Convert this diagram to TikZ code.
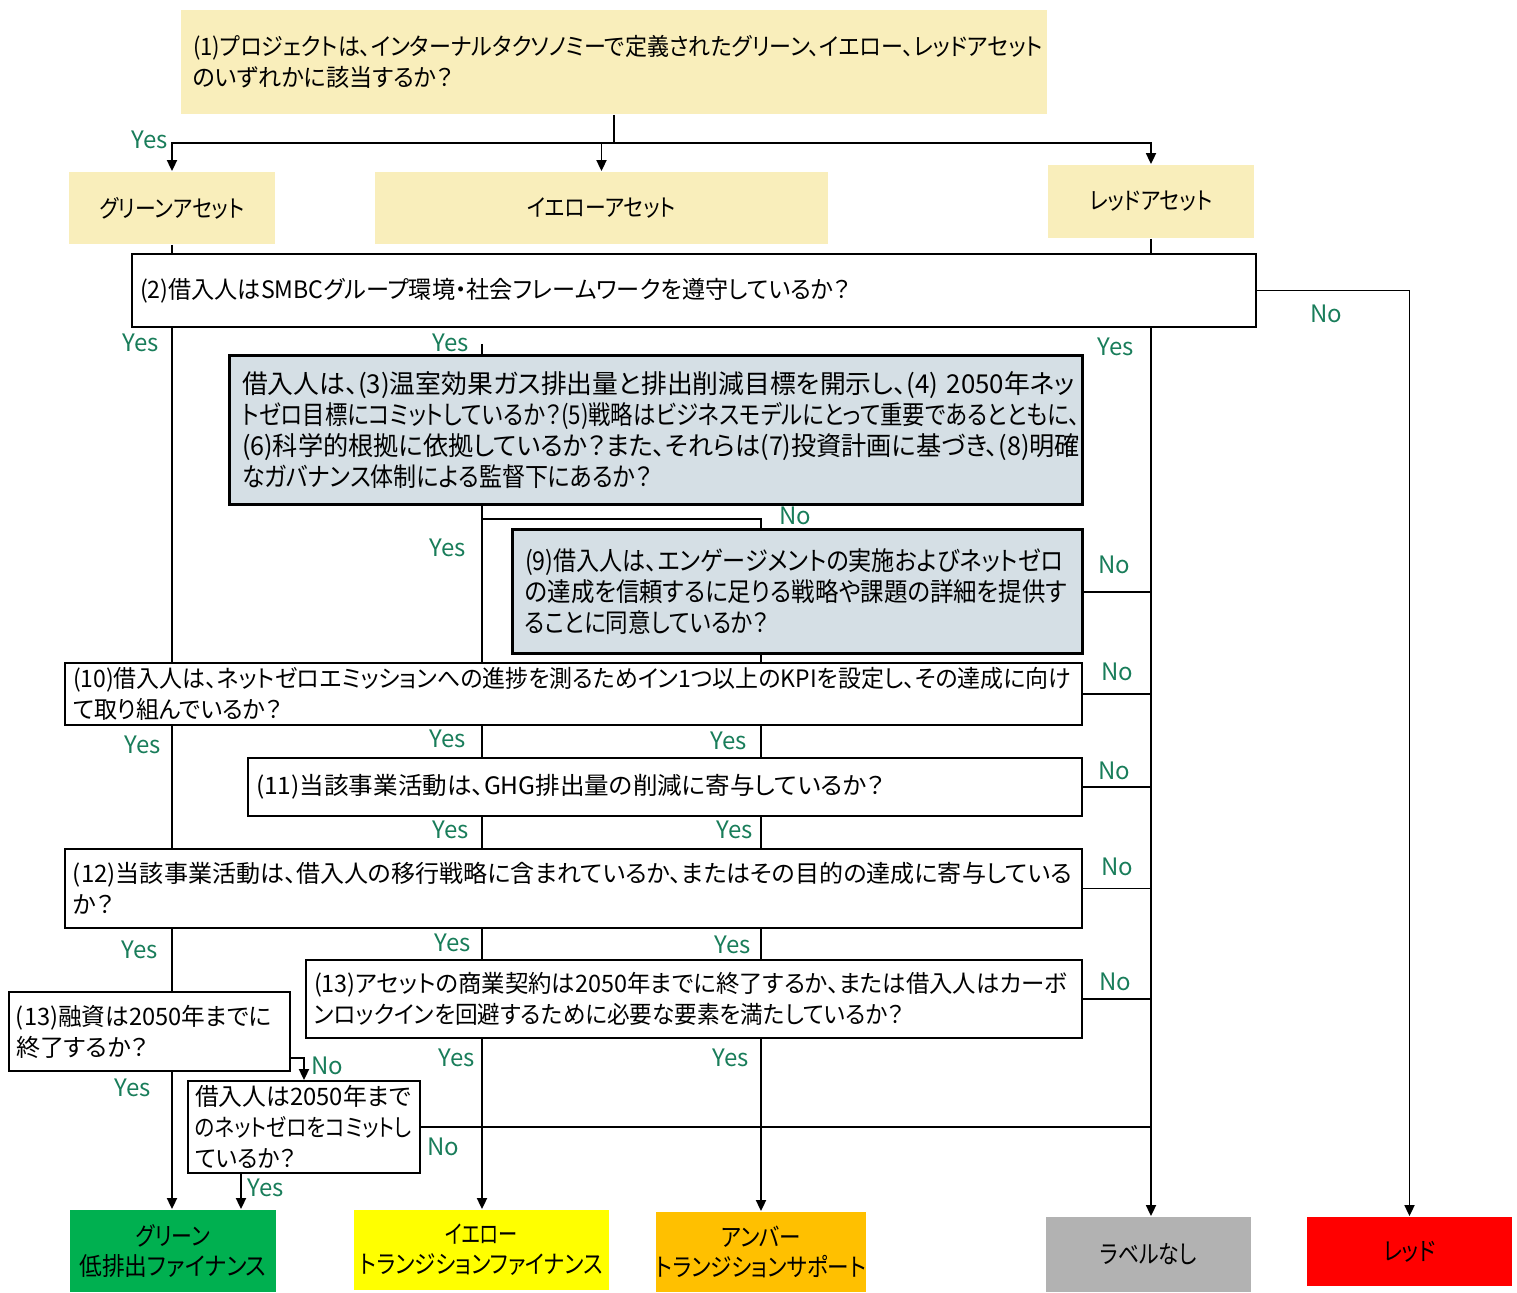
\documentclass[tikz,border=0pt]{standalone}
\usepackage{fontspec}
\usepackage{graphicx}
\setmainfont{Noto Sans CJK JP}[RawFeature=+palt]
\usetikzlibrary{arrows.meta}
\definecolor{assetc}{HTML}{F9EEBB}
\definecolor{qblue}{HTML}{D5DFE5}
\definecolor{lbl}{RGB}{25,125,90}
\definecolor{rgreen}{HTML}{00B050}
\definecolor{ryellow}{HTML}{FFFF00}
\definecolor{ramber}{HTML}{FFC000}
\definecolor{rgrey}{HTML}{B2B2B2}
\definecolor{rred}{HTML}{FF0000}
\newsavebox\fitbox
\newcommand\fitw[2]{\sbox\fitbox{#2}\pgfmathsetmacro\fitfac{#1/\the\wd\fitbox}\scalebox{\fitfac}[1]{\usebox\fitbox}}
\begin{document}
\begin{tikzpicture}[x=0.5pt,y=-0.5pt,
 line width=0.9pt,
 arr/.style={-{Triangle[length=5.5pt,width=5pt]}},
 asset/.style={fill=assetc, inner sep=0pt, font=\fontsize{12}{14}\selectfont},
 qbox/.style={draw, fill=white, align=left, inner ysep=0pt, inner xsep=4pt, font=\fontsize{12}{15.5}\selectfont},
 qthick/.style={draw, fill=qblue, line width=1.5pt, align=left, inner ysep=0pt, inner xsep=6.5pt, font=\fontsize{13}{15.5}\selectfont},
 result/.style={inner sep=0pt, align=center, font=\fontsize{12.5}{15}\selectfont},
 yn/.style={text=lbl, inner sep=0pt, font=\fontsize{12}{14}\selectfont},
]
\useasboundingbox (0,0) rectangle (1517,1293);

% question / asset nodes
\node[asset, align=left, inner xsep=6pt, minimum width=433pt, text width=421pt, minimum height=52pt, font=\fontsize{12}{15.5}\selectfont] (q1) at (614,62)
 {\fitw{425pt}{(1)プロジェクトは、インターナルタクソノミーで定義されたグリーン、イエロー、レッドアセット}\\\fitw{130pt}{のいずれかに該当するか？}};
\node[asset, minimum width=103pt, minimum height=36pt] (ga) at (172,208) {\fitw{72.5pt}{グリーンアセット}};
\node[asset, minimum width=226.5pt, minimum height=36pt] (ya) at (601.5,208) {\fitw{74.5pt}{イエローアセット}};
\node[asset, minimum width=103pt, minimum height=36.5pt] (ra) at (1151,201.5) {\fitw{61.5pt}{レッドアセット}};

\node[qbox, minimum width=562pt, text width=554pt, minimum height=36.5pt] (q2) at (694,290.5)
 {\fitw{355pt}{(2)借入人はSMBCグループ環境・社会フレームワークを遵守しているか？}};
\node[qthick, minimum width=426.5pt, text width=413.5pt, minimum height=74.5pt] (q3) at (655.5,430.5)
 {\fitw{416.5pt}{借入人は、(3)温室効果ガス排出量と排出削減目標を開示し、(4) 2050年ネッ}\\
  \fitw{419pt}{トゼロ目標にコミットしているか？(5)戦略はビジネスモデルにとって重要であるとともに、}\\
  \fitw{419pt}{(6)科学的根拠に依拠しているか？また、それらは(7)投資計画に基づき、(8)明確}\\
  \fitw{205pt}{なガバナンス体制による監督下にあるか？}};
\node[qthick, minimum width=285pt, text width=272pt, minimum height=62pt] (q9) at (797,592)
 {\fitw{269pt}{(9)借入人は、エンゲージメントの実施およびネットゼロ}\\
  \fitw{271pt}{の達成を信頼するに足りる戦略や課題の詳細を提供す}\\
  \fitw{122pt}{ることに同意しているか？}};
\node[qbox, minimum width=508.5pt, text width=500.5pt, minimum height=31pt] (q10) at (573.5,694)
 {\fitw{499pt}{(10)借入人は、ネットゼロエミッションへの進捗を測るためイン1つ以上のKPIを設定し、その達成に向け}\\\fitw{104.5pt}{て取り組んでいるか？}};
\node[qbox, minimum width=417pt, text width=409pt, minimum height=29pt] (q11) at (665,787)
 {\fitw{314pt}{(11)当該事業活動は、GHG排出量の削減に寄与しているか？}};
\node[qbox, minimum width=508.5pt, text width=500.5pt, minimum height=39.5pt] (q12) at (573.5,888.5)
 {\fitw{499.5pt}{(12)当該事業活動は、借入人の移行戦略に含まれているか、またはその目的の達成に寄与している}\\か？};
\node[qbox, minimum width=388pt, text width=380pt, minimum height=39pt] (q13b) at (694,999)
 {\fitw{376.5pt}{(13)アセットの商業契約は2050年までに終了するか、または借入人はカーボ}\\
  \fitw{295pt}{ンロックインを回避するために必要な要素を満たしているか？}};
\node[qbox, inner xsep=3.5pt, minimum width=140.5pt, text width=133.5pt, minimum height=39.5pt] (q13a) at (149.5,1031.5)
 {\fitw{128pt}{(13)融資は2050年までに}\\\fitw{66pt}{終了するか？}};
\node[qbox, inner xsep=3.5pt, minimum width=116pt, text width=109pt, minimum height=46pt] (qnz) at (304,1127)
 {\fitw{108pt}{借入人は2050年まで}\\\fitw{108.5pt}{のネットゼロをコミットし}\\\fitw{50.5pt}{ているか？}};

% results
\node[result, fill=rgreen, minimum width=103pt, minimum height=41pt] (rg) at (173,1251)
 {\fitw{37pt}{グリーン}\\\fitw{93.5pt}{低排出ファイナンス}};
\node[result, fill=ryellow, minimum width=127.5pt, minimum height=40pt] (ry) at (481.5,1250)
 {\fitw{36.5pt}{イエロー}\\\fitw{121.5pt}{トランジションファイナンス}};
\node[result, fill=ramber, minimum width=105pt, minimum height=40pt] (ra2) at (761,1252)
 {\fitw{40pt}{アンバー}\\\fitw{105pt}{トランジションサポート}};
\node[result, fill=rgrey, minimum width=102.5pt, minimum height=37.5pt] (rn) at (1148.5,1254.5) {\fitw{48.5pt}{ラベルなし}};
\node[result, fill=rred, minimum width=102.5pt, minimum height=34.5pt] (rr) at (1409.5,1251.5) {\fitw{26pt}{レッド}};

% column coordinates
\coordinate (cG) at (172,0);
\coordinate (cY) at (482,0);
\coordinate (cA) at (761,0);
\coordinate (cN) at (1151,0);
\coordinate (cZ) at (241,0);
\coordinate (j1) at (614,143);
\coordinate (s3) at (482,344);
\coordinate (j3) at (482,519);

% connectors
\draw (q1.south) -- (j1);
\draw[arr] (j1) -| (ga.north);
\draw[arr] (j1) -| (ra.north);
\draw[arr] (ya.north |- j1) -- (ya.north);
\draw (ga.south) -- (ga.south |- q2.north);
\draw (ra.south) -- (ra.south |- q2.north);
\draw[arr] (q2.east) -| (rr.north);
\draw (cG |- q2.south) -- (cG |- q10.north);
\draw (s3) -- (s3 |- q3.north);
\draw[arr] (cN |- q2.south) -- (cN |- rn.north);
\draw (cY |- q3.south) -- (cY |- q10.north);
\draw (j3) -| (cA |- q9.north);
\draw (q9.east) -- (q9.east -| cN);
\draw (cA |- q9.south) -- (cA |- q10.north);
\draw (q10.east) -- (q10.east -| cN);
\draw (cG |- q10.south) -- (cG |- q12.north);
\draw (cY |- q10.south) -- (cY |- q11.north);
\draw (cA |- q10.south) -- (cA |- q11.north);
\draw (q11.east) -- (q11.east -| cN);
\draw (cY |- q11.south) -- (cY |- q12.north);
\draw (cA |- q11.south) -- (cA |- q12.north);
\draw (q12.east) -- (q12.east -| cN);
\draw (cG |- q12.south) -- (cG |- q13a.north);
\draw (cY |- q12.south) -- (cY |- q13b.north);
\draw (cA |- q12.south) -- (cA |- q13b.north);
\draw (q13b.east) -- (q13b.east -| cN);
\draw[arr] (cY |- q13b.south) -- (cY |- ry.north);
\draw[arr] (cA |- q13b.south) -- (cA |- ra2.north);
\draw[arr] (cG |- q13a.south) -- (cG |- rg.north);
\draw[arr] ([yshift=7pt]q13a.south east) -| (qnz.north);
\draw (qnz.east) -- (qnz.east -| cN);
\draw[arr] (cZ |- qnz.south) -- (cZ |- rg.north);

% labels
\node[yn] (l1) at (150,140) {Yes};
\node[yn] (l2) at (1326,314) {No};
\node[yn] (l3) at (141,343) {Yes};
\node[yn] (l4) at (451,343) {Yes};
\node[yn] (l5) at (1116,347) {Yes};
\node[yn] (l6) at (795,516) {No};
\node[yn] (l7) at (448,548) {Yes};
\node[yn] (l8) at (1114,565) {No};
\node[yn] (l9) at (1117,672) {No};
\node[yn] (l10) at (143,745) {Yes};
\node[yn] (l11) at (448,739) {Yes};
\node[yn] (l12) at (729,741) {Yes};
\node[yn] (l13) at (1114,771) {No};
\node[yn] (l14) at (451,830) {Yes};
\node[yn] (l15) at (735,830) {Yes};
\node[yn] (l16) at (1117,867) {No};
\node[yn] (l17) at (140,950) {Yes};
\node[yn] (l18) at (453,943) {Yes};
\node[yn] (l19) at (733,945) {Yes};
\node[yn] (l20) at (1115,982) {No};
\node[yn] (l21) at (457,1058) {Yes};
\node[yn] (l22) at (731,1058) {Yes};
\node[yn] (l23) at (133,1088) {Yes};
\node[yn] (l24) at (327,1066) {No};
\node[yn] (l25) at (443,1147) {No};
\node[yn] (l26) at (266,1188) {Yes};
\end{tikzpicture}
\end{document}
